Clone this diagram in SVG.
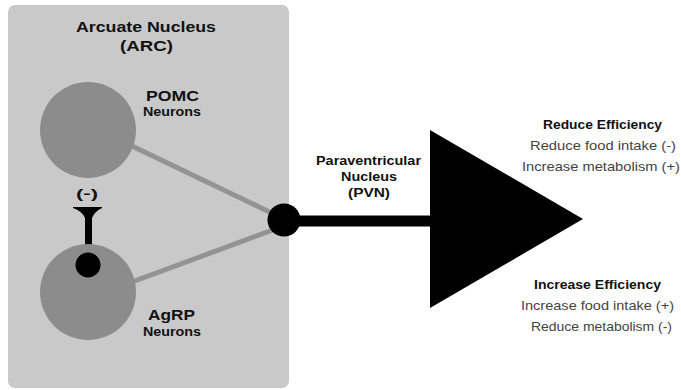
<svg xmlns="http://www.w3.org/2000/svg" width="681" height="390" viewBox="0 0 681 390">
<style>
text{font-family:"Liberation Sans",Arial,sans-serif;text-anchor:middle}
.b{font-weight:bold;fill:#111}
.r{fill:#444}
.gl{stroke:#939393;stroke-width:5;fill:none}
</style>
<rect width="681" height="390" fill="#fff"/>
<g id="arc">
<rect x="8" y="5" width="281" height="383" rx="7" fill="#c9c9c9"/>
<text class="b" x="146" y="32" font-size="15.5" textLength="140" lengthAdjust="spacingAndGlyphs">Arcuate Nucleus</text>
<text class="b" x="146.5" y="51" font-size="15.5" textLength="53" lengthAdjust="spacingAndGlyphs">(ARC)</text>
</g>
<g id="connectors">
<line class="gl" x1="132" y1="146" x2="278" y2="216"/>
<line class="gl" x1="132" y1="282" x2="278" y2="228"/>
<line x1="284" y1="221" x2="436" y2="221" stroke="#000" stroke-width="11"/>
<line x1="88.5" y1="212" x2="88.5" y2="266" stroke="#000" stroke-width="7"/>
<path d="M73,207 L102,207 L102,208 Q95,211 92,218 L85,218 Q82,211 73,208 Z" fill="#000"/>
<text class="b" x="87" y="198" font-size="13" textLength="22" lengthAdjust="spacingAndGlyphs">(-)</text>
</g>
<g id="pomc">
<circle cx="88" cy="130" r="48" fill="#8c8c8c"/>
<text class="b" x="172.5" y="101" font-size="14.5" textLength="53" lengthAdjust="spacingAndGlyphs">POMC</text>
<text class="b" x="172" y="116" font-size="12" textLength="58" lengthAdjust="spacingAndGlyphs">Neurons</text>
</g>
<g id="agrp">
<circle cx="88" cy="292" r="48" fill="#8c8c8c"/>
<circle cx="88" cy="265" r="12.5" fill="#000"/>
<text class="b" x="171.5" y="320" font-size="14.5" textLength="47" lengthAdjust="spacingAndGlyphs">AgRP</text>
<text class="b" x="172" y="336" font-size="12" textLength="58" lengthAdjust="spacingAndGlyphs">Neurons</text>
</g>
<g id="pvn">
<circle cx="284" cy="220" r="16.5" fill="#000"/>
<text class="b" x="368.5" y="165" font-size="13" textLength="105" lengthAdjust="spacingAndGlyphs">Paraventricular</text>
<text class="b" x="369" y="181" font-size="13" textLength="56" lengthAdjust="spacingAndGlyphs">Nucleus</text>
<text class="b" x="369" y="197" font-size="13" textLength="42" lengthAdjust="spacingAndGlyphs">(PVN)</text>
</g>
<g id="output">
<polygon points="430,130 583,219 430,308" fill="#000"/>
</g>
<g id="reduce">
<text class="b" x="602.5" y="129" font-size="12.5" textLength="119" lengthAdjust="spacingAndGlyphs">Reduce Efficiency</text>
<text class="r" x="603" y="150" font-size="13" textLength="146" lengthAdjust="spacingAndGlyphs">Reduce food intake (-)</text>
<text class="r" x="601" y="171" font-size="13" textLength="158" lengthAdjust="spacingAndGlyphs">Increase metabolism (+)</text>
</g>
<g id="increase">
<text class="b" x="597.5" y="289" font-size="12.5" textLength="127" lengthAdjust="spacingAndGlyphs">Increase Efficiency</text>
<text class="r" x="597.5" y="310" font-size="13" textLength="153" lengthAdjust="spacingAndGlyphs">Increase food intake (+)</text>
<text class="r" x="601.5" y="331" font-size="13" textLength="141" lengthAdjust="spacingAndGlyphs">Reduce metabolism (-)</text>
</g>
</svg>
